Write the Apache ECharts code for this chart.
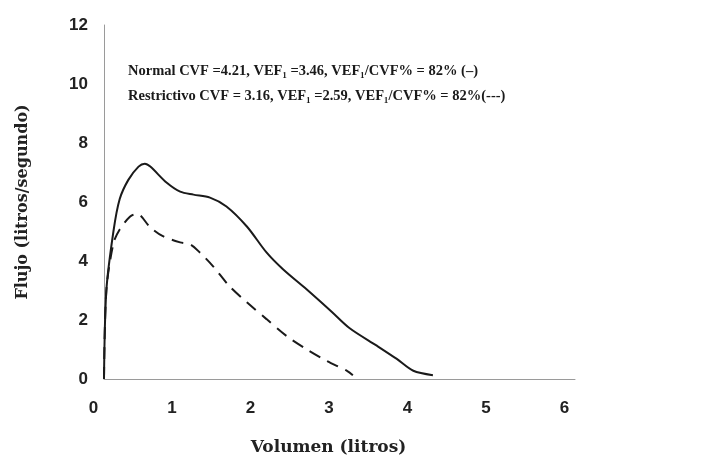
<!DOCTYPE html>
<html>
<head>
<meta charset="utf-8">
<script src="https://cdn.jsdelivr.net/npm/echarts@6/dist/echarts.min.js"></script>
<style>
  html, body { margin: 0; padding: 0; background: #fff; }
  #chart { width: 718px; height: 461px; }
</style>
</head>
<body>
<div id="chart"></div>
<script>
// curva normal (volumen, flujo)
const normalVol = [0, 0.03, 0.12, 0.2, 0.31, 0.44, 0.52, 0.59, 0.8, 0.97, 1.14, 1.35, 1.56, 1.82, 2.07, 2.28, 2.58, 2.9, 3.13, 3.48, 3.73, 3.94, 4.19]
const normalFlujo = [0, 3.0, 5.0, 6.1, 6.75, 7.2, 7.3, 7.2, 6.65, 6.35, 6.25, 6.15, 5.85, 5.17, 4.29, 3.72, 3.04, 2.28, 1.72, 1.12, 0.68, 0.28, 0.13]
// curva restrictiva
const restrVol = [0, 0.03, 0.12, 0.2, 0.33, 0.42, 0.59, 0.75, 0.97, 1.1, 1.22, 1.39, 1.6, 1.82, 2.07, 2.33, 2.58, 2.84, 3.1, 3.17]
const restrFlujo = [0, 3.0, 4.6, 5.07, 5.5, 5.6, 5.14, 4.84, 4.63, 4.56, 4.29, 3.82, 3.14, 2.6, 2.03, 1.45, 1.01, 0.61, 0.27, 0.13]

const xTicks = [0, 1, 2, 3, 4, 5, 6]
const yTicks = [0, 2, 4, 6, 8, 10, 12]

const texto1 = 'Normal CVF =4.21, VEF\u2081 =3.46, VEF\u2081/CVF% = 82% (\u2013)'
const texto2 = 'Restrictivo CVF = 3.16, VEF\u2081 =2.59, VEF\u2081/CVF% = 82%(---)'

const toPairs = (xs, ys) => xs.map((x, i) => [x, ys[i]])

const chart = echarts.init(document.getElementById('chart'))
chart.setOption({
  animation: false,
  grid: { left: 104, right: 143, top: 25, bottom: 81 },
  xAxis: {
    type: 'value',
    min: xTicks[0],
    max: xTicks[xTicks.length - 1],
    interval: 1,
    splitLine: { show: false },
    axisTick: { show: false },
    axisLine: { lineStyle: { color: '#9a9a9a', width: 1 } },
    axisLabel: {
      margin: 21,
      fontFamily: 'Liberation Sans',
      fontWeight: 'bold',
      fontSize: 17,
      color: '#222',
      padding: [0, 21, 0, 0]
    },
    name: 'Volumen (litros)',
    nameLocation: 'middle',
    nameGap: 60,
    nameTextStyle: {
      fontFamily: 'DejaVu Serif',
      fontWeight: 'bold',
      fontSize: 17,
      color: '#222',
      padding: [0, 22, 0, 0]
    }
  },
  yAxis: {
    type: 'value',
    min: yTicks[0],
    max: yTicks[yTicks.length - 1],
    interval: 2,
    splitLine: { show: false },
    axisTick: { show: false },
    axisLine: { show: true, lineStyle: { color: '#9a9a9a', width: 1 } },
    axisLabel: {
      margin: 16,
      fontFamily: 'Liberation Sans',
      fontWeight: 'bold',
      fontSize: 17,
      color: '#222'
    },
    name: 'Flujo (litros/segundo)',
    nameLocation: 'middle',
    nameGap: 73,
    nameTextStyle: {
      fontFamily: 'DejaVu Serif',
      fontWeight: 'bold',
      fontSize: 16,
      color: '#222'
    }
  },
  graphic: [
    {
      type: 'text', left: 128, top: 64,
      style: { text: texto1, font: 'bold 14.5px "Liberation Serif"', fill: '#1a1a1a' }
    },
    {
      type: 'text', left: 128, top: 89,
      style: { text: texto2, font: 'bold 14.5px "Liberation Serif"', fill: '#1a1a1a' }
    }
  ],
  series: [
    {
      name: 'Normal',
      type: 'line',
      data: toPairs(normalVol, normalFlujo),
      smooth: 0.3,
      symbol: 'none',
      lineStyle: { color: '#1a1a1a', width: 2 }
    },
    {
      name: 'Restrictivo',
      type: 'line',
      data: toPairs(restrVol, restrFlujo),
      smooth: 0.3,
      symbol: 'none',
      lineStyle: { color: '#1a1a1a', width: 2, type: [12, 8] }
    }
  ]
})
</script>
</body>
</html>
